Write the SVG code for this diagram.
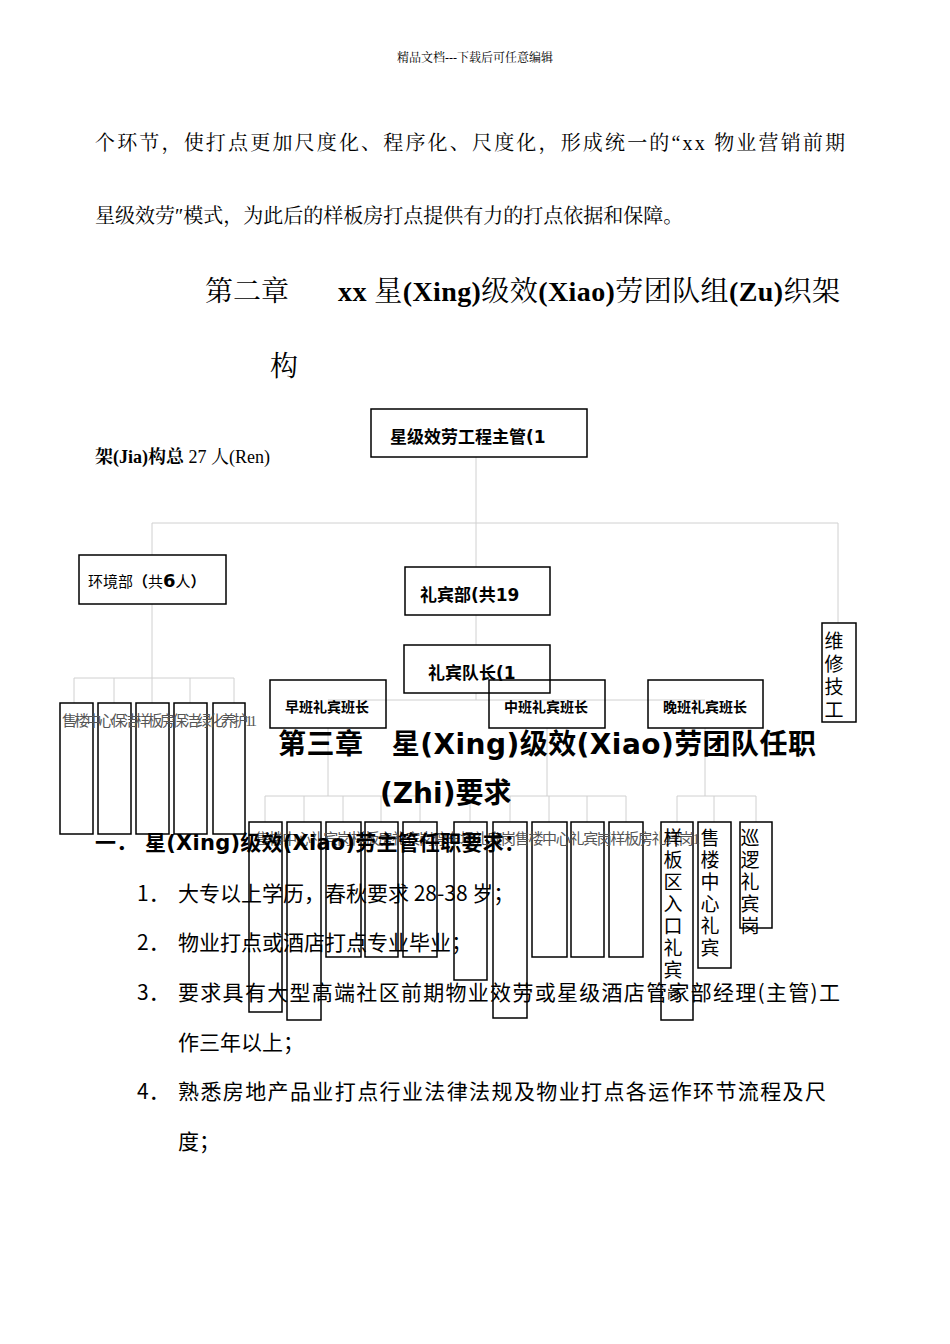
<svg xmlns="http://www.w3.org/2000/svg" width="950" height="1344" viewBox="0 0 950 1344">
<style>
.serif{font-family:"Liberation Serif","Noto Serif CJK SC","Noto Sans CJK SC",serif;fill:#000}
.sans{font-family:"DejaVu Sans","Noto Sans CJK SC",sans-serif;fill:#000}
.box{fill:none;stroke:#000;stroke-width:1.5}
.ln{fill:none;stroke:#d0d0d0;stroke-width:1}
.nb{font-family:"DejaVu Sans","Noto Sans CJK SC",sans-serif;font-weight:bold;font-size:17px}
.sb{font-family:"DejaVu Sans","Noto Sans CJK SC",sans-serif;font-weight:bold;font-size:14px}
.vt{font-family:"Noto Sans CJK SC",sans-serif;font-size:19px}
.gray{font-family:"Liberation Serif","Noto Sans CJK SC",serif;font-size:15px;fill:#555}
.body{font-family:"Noto Sans CJK SC",sans-serif;font-size:21px}
</style>
<rect width="950" height="1344" fill="#fff"/>
<text x="475" y="62" class="serif" font-size="12" fill="#444" text-anchor="middle">精品文档---下载后可任意编辑</text>
<text x="95" y="150" class="serif" font-size="20" textLength="750">个环节，使打点更加尺度化、程序化、尺度化，形成统一的“xx 物业营销前期</text>
<text x="95" y="223" class="serif" font-size="20">星级效劳″模式，为此后的样板房打点提供有力的打点依据和保障。</text>
<text x="205" y="301" class="serif" font-size="28">第二章</text>
<text x="338" y="301" class="serif" font-size="28" textLength="502"><tspan font-weight="bold">xx </tspan>星<tspan font-weight="bold">(Xing)</tspan>级效<tspan font-weight="bold">(Xiao)</tspan>劳团队组<tspan font-weight="bold">(Zu)</tspan>织架</text>
<text x="270" y="376" class="serif" font-size="28">构</text>
<text x="95" y="463" class="serif" font-size="18"><tspan font-weight="bold">架(Jia)构总</tspan> 27 人(Ren)</text>

<g id="connectors">
<path class="ln" d="M476 457V523M152 523H838M152 523V555M838 523V623M476 523V567M476 615V645"/>
<path class="ln" d="M152 604V678M74 678H234M74 678V703M114 678V703M152 678V703M190 678V703M234 678V703"/>
<path class="ln" d="M476 693V700M328 700H705M328 728V796M265 796H420M265 796V822M304 796V822M343 796V822M381 796V822M420 796V822"/>
<path class="ln" d="M547 728V796M470 796H626M470 796V822M510 796V822M549 796V822M587 796V822M626 796V822"/>
<path class="ln" d="M705 728V796M677 796H756M677 796V822M714 796V822M756 796V822"/>
</g>

<g id="n-top"><rect class="box" x="371" y="409" width="216" height="48"/><text x="390" y="443" class="nb">星级效劳工程主管(1</text></g>
<g id="n-env"><rect class="box" x="79" y="555" width="147" height="49"/><text x="88" y="587" class="sans" font-size="15">环境部<tspan font-weight="bold">（</tspan>共<tspan font-weight="bold" font-size="18">6</tspan>人<tspan font-weight="bold">）</tspan></text></g>
<g id="n-lb"><rect class="box" x="405" y="567" width="145" height="48"/><text x="420" y="601" class="nb">礼宾部(共19</text></g>
<g id="n-lbdz"><rect class="box" x="404" y="645" width="146" height="48"/><text x="428" y="679" class="nb">礼宾队长(1</text></g>
<g id="n-wx"><rect class="box" x="822" y="623" width="34" height="99"/>
<text class="vt" x="834" y="648" font-size="18" text-anchor="middle">维</text><text class="vt" x="834" y="671" font-size="18" text-anchor="middle">修</text><text class="vt" x="834" y="694" font-size="18" text-anchor="middle">技</text><text class="vt" x="834" y="717" font-size="18" text-anchor="middle">工</text></g>
<g id="n-env-children">
<rect class="box" x="60" y="703" width="33" height="131"/><rect class="box" x="98" y="703" width="33" height="131"/><rect class="box" x="136" y="703" width="33" height="131"/><rect class="box" x="174" y="703" width="33" height="131"/><rect class="box" x="213" y="703" width="32" height="131"/>
<text x="62" y="726" class="gray" font-size="16" textLength="195">售楼中心保洁样板房保洁绿化养护11</text>
</g>
<g id="n-zb"><rect class="box" x="270" y="680" width="116" height="48"/><text x="285" y="712" class="sb">早班礼宾班长</text></g>
<g id="n-mb"><rect class="box" x="489" y="680" width="116" height="48"/><text x="504" y="712" class="sb">中班礼宾班长</text></g>
<g id="n-wb"><rect class="box" x="648" y="680" width="115" height="48"/><text x="663" y="712" class="sb">晚班礼宾班长</text></g>

<g id="n-children">
<rect class="box" x="249" y="822" width="33" height="190"/><rect class="box" x="287" y="822" width="34" height="198"/><rect class="box" x="326" y="822" width="35" height="135"/><rect class="box" x="365" y="822" width="33" height="135"/><rect class="box" x="403" y="822" width="34" height="135"/>
<rect class="box" x="454" y="822" width="33" height="158"/><rect class="box" x="493" y="822" width="34" height="196"/><rect class="box" x="532" y="822" width="35" height="135"/><rect class="box" x="571" y="822" width="33" height="135"/><rect class="box" x="609" y="822" width="34" height="135"/>
<rect class="box" x="661" y="822" width="32" height="198"/><rect class="box" x="698" y="822" width="33" height="146"/><rect class="box" x="740" y="822" width="32" height="106"/>
<text x="255" y="844" class="gray" textLength="445">售楼中心礼宾岗样板房礼宾岗停车场礼宾岗售楼中心礼宾岗样板房礼宾岗1</text>
<g class="vt" text-anchor="middle"><text x="673" y="845">样</text><text x="673" y="867">板</text><text x="673" y="889">区</text><text x="673" y="911">入</text><text x="673" y="933">口</text><text x="673" y="955">礼</text><text x="673" y="977">宾</text><text x="673" y="999" font-size="12">岗</text>
<text x="710" y="845">售</text><text x="710" y="867">楼</text><text x="710" y="889">中</text><text x="710" y="911">心</text><text x="710" y="933">礼</text><text x="710" y="955">宾</text>
<text x="750" y="845">巡</text><text x="750" y="867">逻</text><text x="750" y="889">礼</text><text x="750" y="911">宾</text><text x="750" y="933">岗</text></g>
</g>

<text x="278" y="754" class="sans" font-size="28" font-weight="bold" textLength="538">第三章　星(Xing)级效(Xiao)劳团队任职</text>
<text x="380" y="803" class="sans" font-size="28" font-weight="bold">(Zhi)要求</text>
<text x="95" y="850" class="sans" font-size="21" font-weight="bold">一．</text>
<text x="145" y="850" class="sans" font-size="21" font-weight="bold" textLength="380">星(Xing)级效(Xiao)劳主管任职要求：</text>
<g class="body">
<text x="137" y="901">1．</text><text x="178" y="901">大专以上学历，春秋要求 28-38 岁；</text>
<text x="137" y="950">2．</text><text x="178" y="950">物业打点或酒店打点专业毕业；</text>
<text x="137" y="1000">3．</text><text x="178" y="1000" textLength="662">要求具有大型高端社区前期物业效劳或星级酒店管家部经理(主管)工</text>
<text x="178" y="1050">作三年以上；</text>
<text x="137" y="1099">4．</text><text x="178" y="1099" textLength="648">熟悉房地产品业打点行业法律法规及物业打点各运作环节流程及尺</text>
<text x="178" y="1149">度；</text>
</g>
</svg>
